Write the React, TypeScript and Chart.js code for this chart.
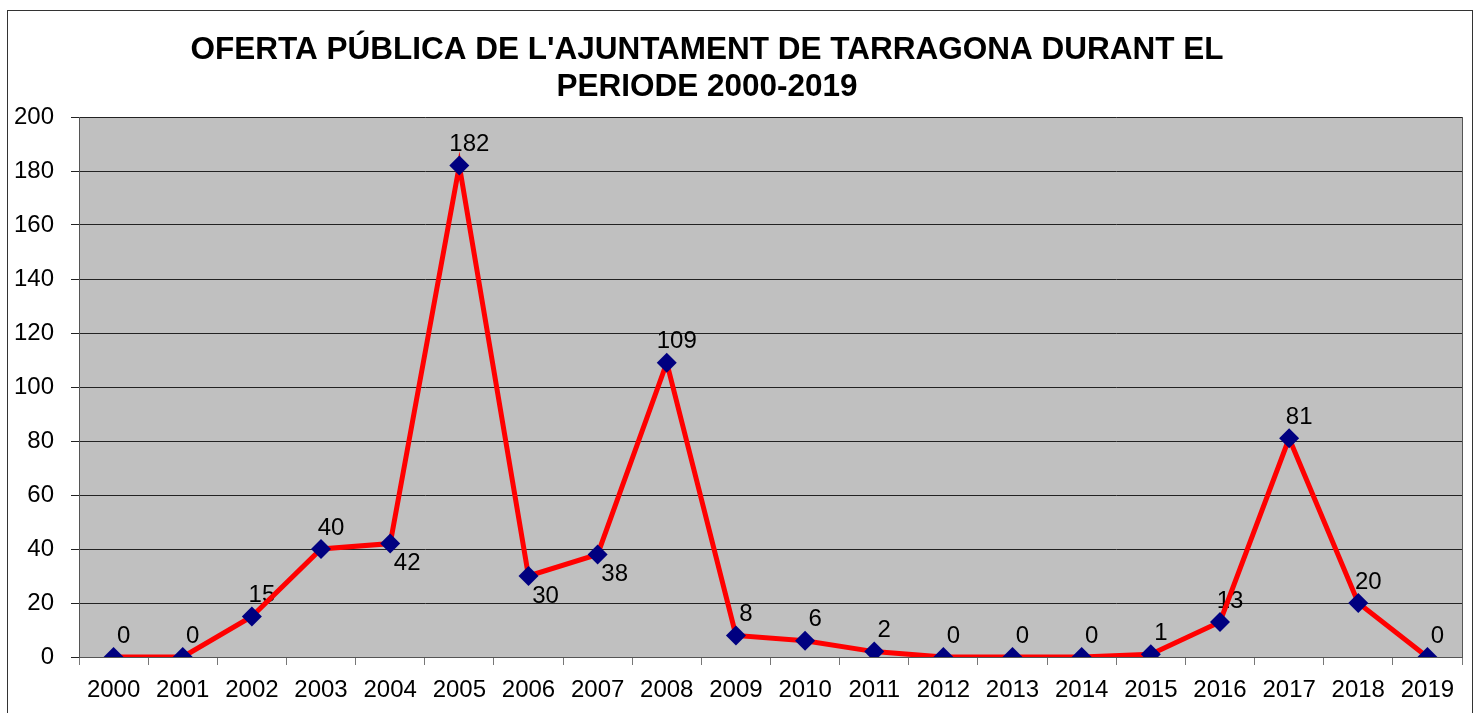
import React, { useEffect, useRef } from "react";
import { Chart, registerables } from "chart.js";

Chart.register(...registerables);

const titleLines = ["OFERTA PÚBLICA DE L'AJUNTAMENT DE TARRAGONA DURANT EL", "PERIODE 2000-2019"];
const years = ["2000","2001","2002","2003","2004","2005","2006","2007","2008","2009","2010","2011","2012","2013","2014","2015","2016","2017","2018","2019"];
const places = [0, 0, 15, 40, 42, 182, 30, 38, 109, 8, 6, 2, 0, 0, 0, 1, 13, 81, 20, 0];
const labelsBelow = [4, 6, 7];

const FONT = "Arial, 'Liberation Sans', sans-serif";

const framePlugin = {
  id: "frame",
  beforeDraw(chart: any) {
    const { ctx, chartArea } = chart;
    ctx.save();
    ctx.fillStyle = "#ffffff";
    ctx.fillRect(0, 0, chart.width, chart.height);
    ctx.strokeStyle = "#333333";
    ctx.lineWidth = 1;
    ctx.strokeRect(7.5, 10.5, 1465, 720);
    ctx.fillStyle = "#C0C0C0";
    ctx.fillRect(chartArea.left, chartArea.top, chartArea.right - chartArea.left, chartArea.bottom - chartArea.top);
    ctx.fillStyle = "#000";
    ctx.font = `bold 31.5px ${FONT}`;
    ctx.textAlign = "center";
    ctx.textBaseline = "alphabetic";
    ctx.fillText(titleLines[0], 707, 59);
    ctx.fillText(titleLines[1], 707, 96);
    ctx.restore();
  },
  beforeDatasetsDraw(chart: any) {
    const { ctx } = chart;
    const meta = chart.getDatasetMeta(0);
    ctx.save();
    ctx.fillStyle = "#000";
    ctx.font = `24px ${FONT}`;
    ctx.textAlign = "center";
    ctx.textBaseline = "middle";
    meta.data.forEach((pt: any, i: number) => {
      const below = labelsBelow.includes(i);
      const dx = below ? 17 : 10;
      const dy = below ? 20 : -21;
      ctx.fillText(String(places[i]), pt.x + dx, pt.y + dy);
    });
    ctx.restore();
  },
  afterDraw(chart: any) {
    const { ctx, chartArea } = chart;
    ctx.save();
    ctx.strokeStyle = "#555";
    ctx.lineWidth = 1;
    ctx.beginPath();
    ctx.moveTo(chartArea.right + 0.5, chartArea.top);
    ctx.lineTo(chartArea.right + 0.5, chartArea.bottom);
    ctx.stroke();
    ctx.restore();
  },
};

export default function App() {
  const ref = useRef<HTMLCanvasElement | null>(null);
  useEffect(() => {
    if (!ref.current) return;
    const chart = new Chart(ref.current, {
      type: "line",
      data: {
        labels: years,
        datasets: [
          {
            data: places,
            borderColor: "#FF0000",
            borderWidth: 5,
            pointStyle: "rectRot",
            pointRadius: 10,
            pointBackgroundColor: "#000080",
            pointBorderColor: "#000080",
            pointBorderWidth: 0,
            tension: 0,
          },
        ],
      },
      options: {
        animation: false,
        responsive: false,
        devicePixelRatio: 1,
        layout: { padding: { top: 117, left: 0, right: 20, bottom: 0 } },
        plugins: { legend: { display: false }, title: { display: false }, tooltip: { enabled: false } },
        scales: {
          x: {
            offset: true,
            afterFit: (s: any) => { s.height = 56; },
            grid: { display: true, drawOnChartArea: false, drawTicks: true, tickLength: 8, offset: true, color: "#777" },
            border: { display: true, color: "#555" },
            ticks: { color: "#000", font: { family: FONT, size: 24 }, padding: 11, maxRotation: 0, autoSkip: false },
          },
          y: {
            min: 0,
            max: 200,
            afterFit: (s: any) => { s.width = 79; },
            grid: { color: "#222", tickLength: 8, drawTicks: true },
            border: { display: true, color: "#555" },
            ticks: { stepSize: 20, color: "#000", font: { family: FONT, size: 24 }, padding: 17 },
          },
        },
      },
      plugins: [framePlugin],
    });
    return () => chart.destroy();
  }, []);
  return (
    <canvas
      ref={ref}
      width={1482}
      height={713}
      style={{ position: "fixed", left: 0, top: 0, width: 1482, height: 713 }}
    />
  );
}
